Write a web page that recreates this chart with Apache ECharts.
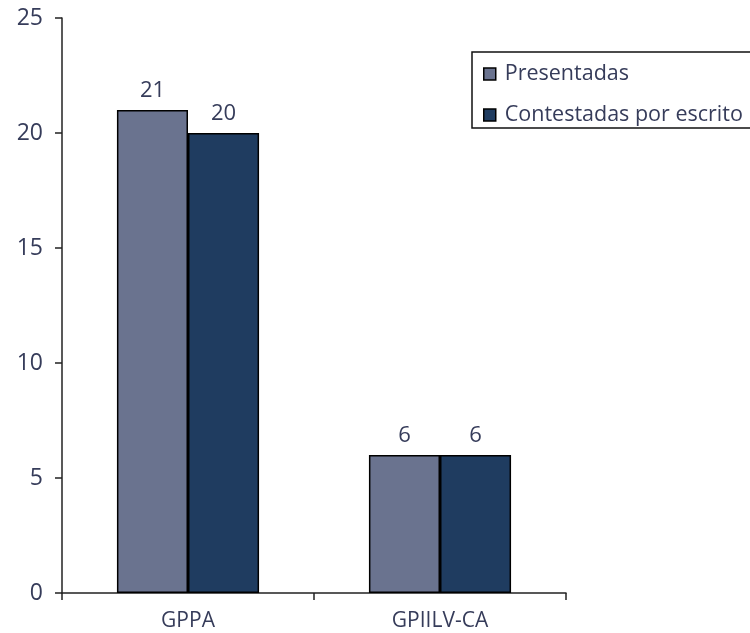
<!DOCTYPE html>
<html><head><meta charset="utf-8">
<script src="https://cdn.jsdelivr.net/npm/echarts@6/dist/echarts.min.js"></script>
<style>html,body{margin:0;padding:0;background:#fff}#c{width:750px;height:633px}</style>
</head><body><div id="c"></div>
<script>
const categories = ['GPPA', 'GPIILV-CA'];
const seriesNames = ['Presentadas', 'Contestadas por escrito'];
const presentadas = [21, 6];
const contestadas = [20, 6];
const yTicks = [0, 5, 10, 15, 20, 25];

const txt = '#363c5a';
const font = '"Open Sans", "Noto Sans", sans-serif';
const chart = echarts.init(document.getElementById('c'));
chart.setOption({
  animation: false,
  textStyle: { fontFamily: font },
  grid: { left: 62, right: 184, top: 18, bottom: 40, containLabel: false },
  legend: {
    orient: 'vertical', left: 478, top: 58, itemGap: 19,
    icon: 'rect', itemWidth: 12, itemHeight: 12,
    textStyle: { color: txt, fontSize: 21.5, fontFamily: font, padding: [0, 0, 0, 4] },
    data: seriesNames.map(n => ({ name: n, itemStyle: { borderColor: '#000', borderWidth: 1.5 } }))
  },
  graphic: [{
    type: 'rect', shape: { x: 472, y: 52, width: 290, height: 76 },
    style: { fill: 'none', stroke: '#111', lineWidth: 1.5 }
  }],
  xAxis: {
    type: 'category', data: categories,
    axisLine: { lineStyle: { color: '#222', width: 1.5 } },
    axisTick: { show: true, length: 7, lineStyle: { color: '#222', width: 1.5 } },
    axisLabel: { color: txt, fontSize: 21, margin: 18, fontFamily: font }
  },
  yAxis: {
    type: 'value', min: yTicks[0], max: yTicks[yTicks.length - 1], interval: 5,
    axisLine: { show: true, lineStyle: { color: '#222', width: 1.5 } },
    axisTick: { show: true, length: 7, lineStyle: { color: '#222', width: 1.5 } },
    splitLine: { show: false },
    axisLabel: { color: txt, fontSize: 23, margin: 19, fontFamily: font }
  },
  series: [
    {
      name: seriesNames[0], type: 'bar', data: presentadas,
      barGap: '0%', barCategoryGap: '43.6%',
      itemStyle: { color: '#6a738f', borderColor: '#000', borderWidth: 1.5 },
      label: { show: true, position: 'top', distance: 8, color: txt, fontSize: 22, fontFamily: font }
    },
    {
      name: seriesNames[1], type: 'bar', data: contestadas,
      barGap: '0%', barCategoryGap: '43.6%',
      itemStyle: { color: '#1f3c60', borderColor: '#000', borderWidth: 1.5 },
      label: { show: true, position: 'top', distance: 8, color: txt, fontSize: 22, fontFamily: font }
    }
  ]
});
</script></body></html>
